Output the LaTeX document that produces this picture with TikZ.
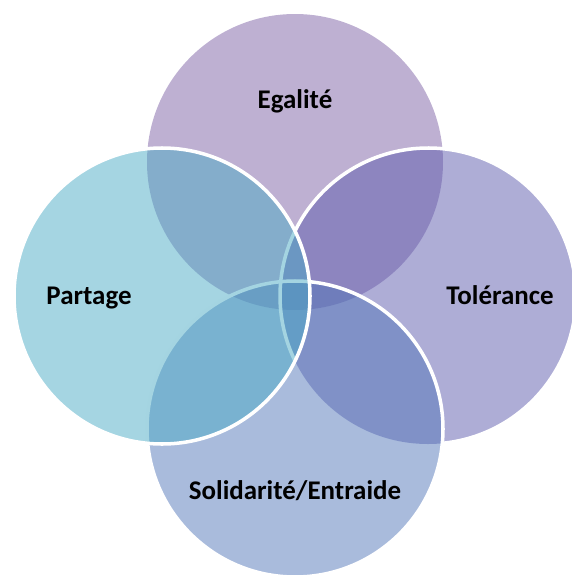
\documentclass[tikz,border=0pt]{standalone}
\usepackage{fontspec}
\setmainfont{Carlito}
\definecolor{coltop}{RGB}{125,97,165}
\definecolor{colright}{RGB}{93,91,173}
\definecolor{colbottom}{RGB}{83,119,185}
\definecolor{colleft}{RGB}{75,171,197}
\tikzset{
  cerchio/.style={fill=#1,fill opacity=.5,draw=none},
  bordo/.style={draw=white,line width=3pt},
  etichetta/.style={anchor=base,font=\fontsize{23}{26}\selectfont\bfseries,text=black}
}
\begin{document}
\begin{tikzpicture}[x=0.03cm,y=-0.03cm]
\useasboundingbox (0,0) rectangle (572,578);
\clip (0,0) rectangle (572,578);

\pgfmathsetmacro{\raggio}{148*0.03}
\coordinate (oe) at (295,162);
\coordinate (ot) at (428,296);
\coordinate (os) at (295,429);
\coordinate (op) at (162,296);

% fills
\path[cerchio=coltop] (oe) circle (\raggio cm);
\path[cerchio=colright] (ot) circle (\raggio cm);
\path[cerchio=colbottom] (os) circle (\raggio cm);

% white rims
\draw[bordo] (ot) ++(-84.5:\raggio cm) arc[start angle=-84.5,end angle=206,radius=\raggio cm];
\draw[bordo] (os) circle (\raggio cm);

\path[cerchio=colleft] (op) circle (\raggio cm);
\draw[bordo] (op) circle (\raggio cm);

\node[etichetta] (egalite) at (295,108) {Egalité};
\node[etichetta] (tolerance) at (500,304) {Tolérance};
\node[etichetta] (partage) at (89,304) {Partage};
\node[etichetta] (solidarite) at (295,499) {Solidarité/Entraide};

\end{tikzpicture}
\end{document}
